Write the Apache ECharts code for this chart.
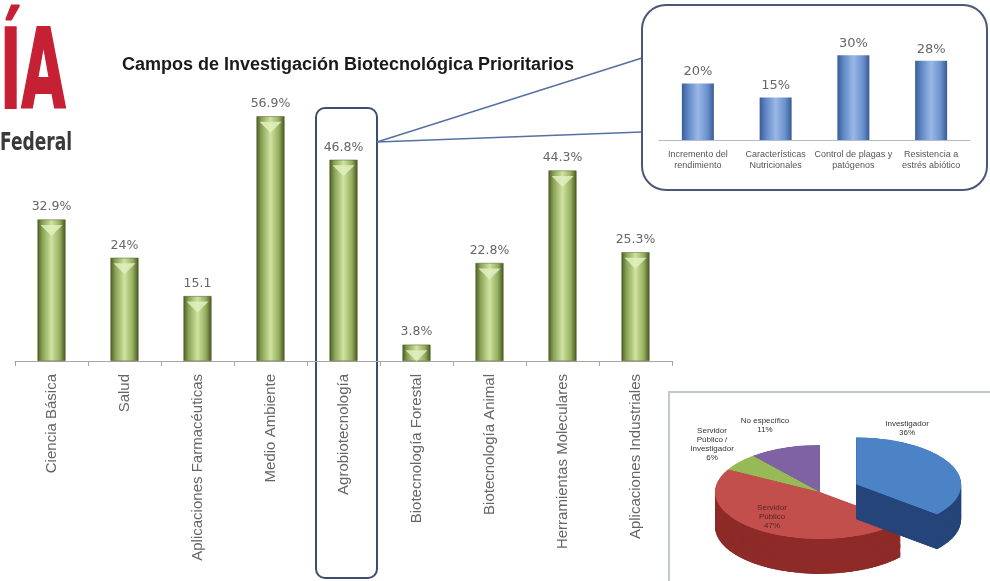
<!DOCTYPE html>
<html>
<head>
<meta charset="utf-8">
<script src="https://cdn.jsdelivr.net/npm/echarts@6/dist/echarts.min.js"></script>
<style>
	html, body { margin: 0; padding: 0; background: #fff; overflow: hidden; }
	#pie { position: absolute; left: 700px; top: 380px; width: 300px; height: 440px; transform: scaleY(0.448); transform-origin: 0 0; }
	#main { position: absolute; left: 0; top: 0; width: 990px; height: 581px; }
</style>
</head>
<body>
<div id="pie"></div>
<div id="main"></div>
<script>
// main chart
var categories = ['Ciencia Básica', 'Salud', 'Aplicaciones Farmacéuticas', 'Medio Ambiente', 'Agrobiotecnología',
	'Biotecnología Forestal', 'Biotecnología Animal', 'Herramientas Moleculares', 'Aplicaciones Industriales'];
var values = [32.9, 24, 15.1, 56.9, 46.8, 3.8, 22.8, 44.3, 25.3];
var valueLabels = ['32.9%', '24%', '15.1', '56.9%', '46.8%', '3.8%', '22.8%', '44.3%', '25.3%'];

// inset (agrobiotecnologia)
var insetCategories = ['Incremento del\nrendimiento', 'Características\nNutricionales', 'Control de plagas y\npatógenos', 'Resistencia a\nestrés abiótico'];
var insetValues = [20, 15, 30, 28];

// pie (perfil)
var pieNames = ['Investigador', 'Servidor Público', 'Servidor Público / Investigador', 'No específico'];
var pieValues = [36, 47, 6, 11];
var pieLabels = ['Investigador\n36%', 'Servidor\nPúblico\n47%', 'Servidor\nPúblico /\nInvestigador\n6%', 'No específico\n11%'];

var font = "'Liberation Sans', Arial, sans-serif";
var wide = "'DejaVu Sans', sans-serif";
var narrow = "'Liberation Sans Narrow', 'DejaVu Sans Condensed', sans-serif";

function greenBar() {
	return new echarts.graphic.LinearGradient(0, 0, 1, 0, [
		{ offset: 0, color: '#4d5c25' },
		{ offset: 0.18, color: '#8aa356' },
		{ offset: 0.5, color: '#cfe3a0' },
		{ offset: 0.8, color: '#94ad5e' },
		{ offset: 1, color: '#47551f' },
	]);
}

function blueBar() {
	return new echarts.graphic.LinearGradient(0, 0, 1, 0, [
		{ offset: 0, color: '#3a5c98' },
		{ offset: 0.2, color: '#6189c6' },
		{ offset: 0.5, color: '#9ab8e6' },
		{ offset: 0.8, color: '#6a91cc' },
		{ offset: 1, color: '#395a94' },
	]);
}

// ---------- pie, drawn in its own squashed box ----------
var pieChart = echarts.init(document.getElementById('pie'));
var topColors = ['#4c82c6', '#c24f4b', '#98b957', '#7e62a3'];
var sideColors = ['#25457a', '#8e2b29', '#5f7a2c', '#4d3a72'];
var pieCx = 120, pieCy = 250, pieR = 105, depth = 78, steps = 40;

function pieLayer(cy, colors) {
	return {
		type: 'pie',
		center: [pieCx, cy],
		radius: [0, pieR],
		startAngle: 90,
		clockwise: true,
		selectedMode: 'single',
		selectedOffset: 40,
		animation: false,
		silent: true,
		label: { show: false },
		labelLine: { show: false },
		data: pieValues.map(function(v, i) {
			return { value: v, name: pieNames[i], selected: i === 0, itemStyle: { color: colors[i] } };
		}),
	};
}

var pieSeries = [];
for (var k = steps; k >= 1; k--) {
	pieSeries.push(pieLayer(pieCy + (depth * k) / steps, sideColors));
}
pieSeries.push(pieLayer(pieCy, topColors));
pieChart.setOption({ animation: false, series: pieSeries });

// ---------- main chart ----------
var chart = echarts.init(document.getElementById('main'));

var pieLabelPos = [[907, 428], [772, 517], [712, 444], [765, 425]];
var pieTexts = pieLabels.map(function(t, i) {
	return {
		type: 'text',
		x: pieLabelPos[i][0],
		y: pieLabelPos[i][1],
		style: {
			text: t,
			fill: i === 1 ? '#5a2422' : '#333',
			font: '8px ' + font,
			align: 'center',
			verticalAlign: 'middle',
			lineHeight: 9,
		},
	};
});

var option = {
	animation: false,
	textStyle: { fontFamily: font },
	title: {
		text: 'Campos de Investigación Biotecnológica Prioritarios',
		left: 117,
		top: 51,
		textStyle: { fontSize: 18, fontWeight: 'bold', color: '#1a1a1a', fontFamily: font },
	},
	grid: [
		{ left: 15, top: 103, width: 657, height: 258, outerBoundsMode: 'none' },
		{ left: 659, top: 41, width: 311, height: 99, outerBoundsMode: 'none' },
	],
	xAxis: [
		{
			type: 'category',
			gridIndex: 0,
			data: categories,
			axisLine: { lineStyle: { color: '#a6a6a6', width: 1 } },
			axisTick: { show: true, length: 5, lineStyle: { color: '#a6a6a6' } },
			axisLabel: { rotate: 90, color: '#666', fontSize: 15, margin: 13, interval: 0 },
		},
		{
			type: 'category',
			gridIndex: 1,
			data: insetCategories,
			axisLine: { lineStyle: { color: '#b4bccb', width: 1 } },
			axisTick: { show: false },
			axisLabel: { color: '#555', fontSize: 9, lineHeight: 11, margin: 9, interval: 0 },
		},
	],
	yAxis: [
		{ type: 'value', gridIndex: 0, min: 0, max: 60, show: false },
		{ type: 'value', gridIndex: 1, min: 0, max: 35, show: false },
	],
	series: [
		{
			type: 'bar',
			xAxisIndex: 0,
			yAxisIndex: 0,
			barWidth: 28,
			data: values,
			itemStyle: { color: greenBar(), borderColor: '#4a5822', borderWidth: 0.5 },
			label: {
				show: true,
				position: 'top',
				distance: 6,
				color: '#666',
				fontSize: 12.5,
				fontFamily: wide,
				formatter: function(p) {
					return valueLabels[p.dataIndex];
				},
			},
		},
		{
			// light bevel at the top of each bar
			type: 'pictorialBar',
			xAxisIndex: 0,
			yAxisIndex: 0,
			data: values,
			symbol: 'triangle',
			symbolRotate: 180,
			symbolSize: [22, 11],
			symbolPosition: 'end',
			symbolOffset: [0, '50%'],
			itemStyle: { color: 'rgba(226,240,190,0.85)' },
			silent: true,
			z: 3,
		},
		{
			type: 'bar',
			xAxisIndex: 1,
			yAxisIndex: 1,
			barWidth: 32,
			data: insetValues,
			itemStyle: { color: blueBar() },
			label: {
				show: true,
				position: 'top',
				distance: 5,
				color: '#666',
				fontSize: 13,
				fontFamily: wide,
				formatter: '{c}%',
			},
		},
	],
	graphic: [
		// logo piece
		{
			type: 'text',
			x: 0,
			y: 24,
			scaleX: 0.58,
			style: { text: 'ÍA', fill: '#c62035', stroke: '#c62035', lineWidth: 2, font: 'bold 110px ' + narrow, verticalAlign: 'top' },
		},
		{
			type: 'text',
			x: 0,
			y: 131,
			scaleX: 0.76,
			style: { text: 'Federal', fill: '#3a3a3a', font: 'bold 25px ' + narrow, verticalAlign: 'top' },
		},
		// box around agrobiotecnologia
		{
			type: 'rect',
			shape: { x: 316, y: 108, width: 61, height: 470, r: 9 },
			style: { fill: 'none', stroke: '#3d4d6e', lineWidth: 2 },
		},
		{
			type: 'line',
			shape: { x1: 377, y1: 142, x2: 642, y2: 58 },
			style: { stroke: '#5670a0', lineWidth: 1.5 },
		},
		{
			type: 'line',
			shape: { x1: 377, y1: 142, x2: 642, y2: 132 },
			style: { stroke: '#5670a0', lineWidth: 1.5 },
		},
		// inset frame
		{
			type: 'rect',
			shape: { x: 642, y: 5, width: 345, height: 185, r: 24 },
			style: { fill: 'none', stroke: '#4a5876', lineWidth: 2 },
		},
		// pie frame
		{
			type: 'polyline',
			shape: { points: [[669, 581], [669, 392], [990, 392]] },
			style: { fill: 'none', stroke: '#c4c8d2', lineWidth: 2 },
		},
	].concat(pieTexts),
};

chart.setOption(option);
</script>
</body>
</html>
